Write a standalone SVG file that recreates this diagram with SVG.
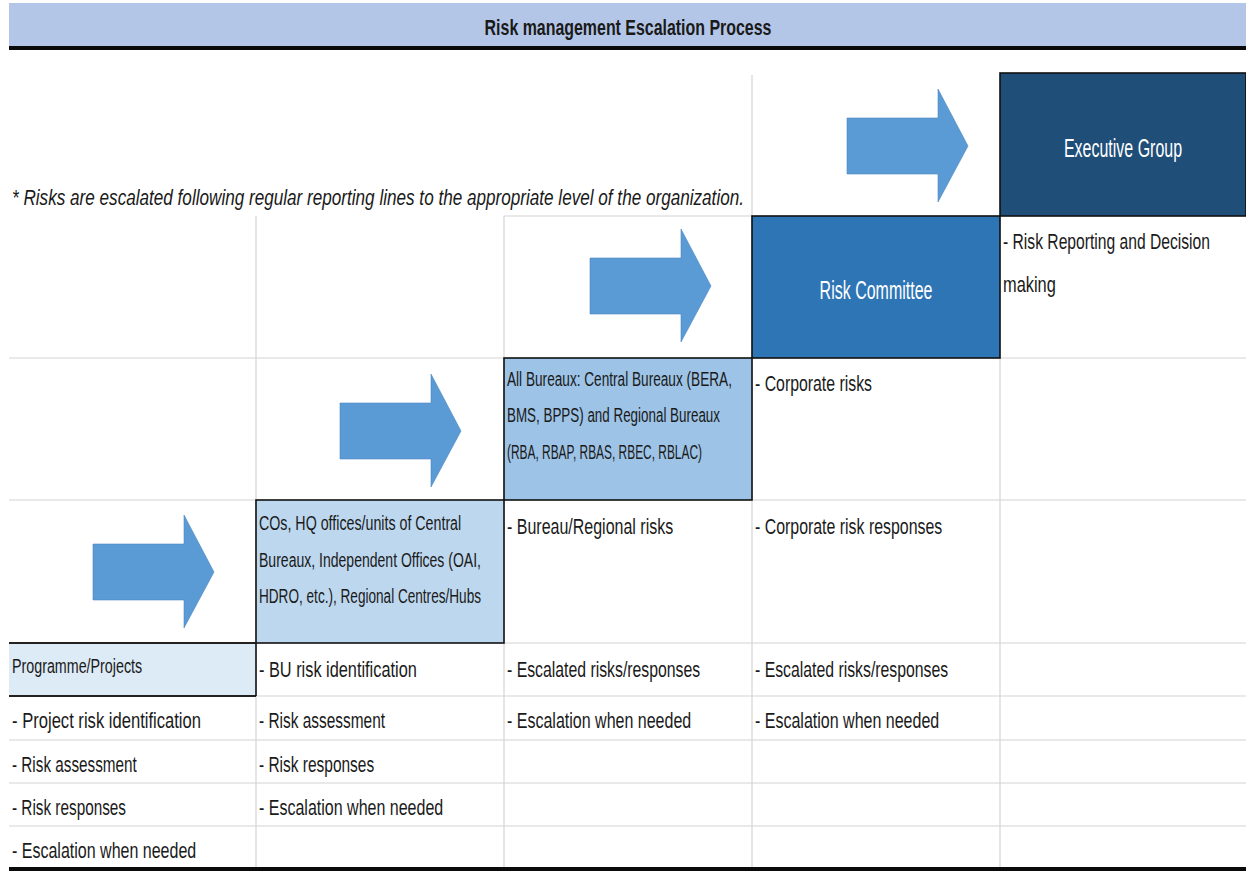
<svg xmlns="http://www.w3.org/2000/svg" width="1246" height="874" viewBox="0 0 1246 874">
<style>
.t{font-family:"Liberation Sans",Arial,sans-serif;font-size:22px;fill:#1a1a1a}
.s{font-size:20px}
.w{fill:#ffffff;font-size:25px}
.m{text-anchor:middle}
.g{stroke:#d4d4d4;stroke-width:1.2;fill:none}
.box{stroke:#111;stroke-width:1.6}
.arr{fill:#5b9bd5;stroke:#4a86bf;stroke-width:0.6}
</style>
<defs>
<path id="arrow" d="M0,29 H91 V0 L121,57 L91,113 V85 H0 Z"/>
</defs>
<rect x="0" y="0" width="1246" height="874" fill="#ffffff"/>
<g id="title">
<rect x="9" y="3" width="1237" height="43" fill="#b4c6e7"/>
<rect x="9" y="46" width="1237" height="4" fill="#0a0a0a"/>
<text class="t m" transform="translate(628,35) scale(0.6,1)" font-weight="bold" font-size="22" textLength="478" lengthAdjust="spacingAndGlyphs">Risk management Escalation Process</text>
</g>
<g id="grid">
<line class="g" x1="504" y1="216" x2="752" y2="216"/>
<line class="g" x1="9" y1="358" x2="504" y2="358"/>
<line class="g" x1="1000" y1="358" x2="1246" y2="358"/>
<line class="g" x1="9" y1="500" x2="256" y2="500"/>
<line class="g" x1="752" y1="500" x2="1246" y2="500"/>
<line class="g" x1="504" y1="643" x2="1246" y2="643"/>
<line class="g" x1="256" y1="696" x2="1246" y2="696"/>
<line class="g" x1="9" y1="740" x2="1246" y2="740"/>
<line class="g" x1="9" y1="783" x2="1246" y2="783"/>
<line class="g" x1="9" y1="826" x2="1246" y2="826"/>
<line class="g" x1="256" y1="216" x2="256" y2="869"/>
<line class="g" x1="504" y1="216" x2="504" y2="869"/>
<line class="g" x1="752" y1="75" x2="752" y2="869"/>
<line class="g" x1="1000" y1="216" x2="1000" y2="869"/>
<rect x="9" y="867" width="1237" height="4" fill="#0a0a0a"/>
</g>
<text class="t" transform="translate(12,205) scale(0.6,1)" font-style="italic" font-size="23" textLength="1220" lengthAdjust="spacingAndGlyphs">* Risks are escalated following regular reporting lines to the appropriate level of the organization.</text>
<g id="connectors">
<use href="#arrow" class="arr" transform="translate(93,515)"/>
<use href="#arrow" class="arr" transform="translate(340,374)"/>
<use href="#arrow" class="arr" transform="translate(590,229)"/>
<use href="#arrow" class="arr" transform="translate(847,89)"/>
</g>
<g id="executive-group">
<rect class="box" x="1000" y="73" width="246" height="143" fill="#1f4e79"/>
<text class="t w m" transform="translate(1123,157) scale(0.6,1)" textLength="197" lengthAdjust="spacingAndGlyphs">Executive Group</text>
<text class="t" transform="translate(1003,249) scale(0.6,1)" textLength="345" lengthAdjust="spacingAndGlyphs">- Risk Reporting and Decision</text>
<text class="t" transform="translate(1003,292) scale(0.6,1)" textLength="88" lengthAdjust="spacingAndGlyphs">making</text>
</g>
<g id="risk-committee">
<rect class="box" x="752" y="216" width="248" height="142" fill="#2e75b6"/>
<text class="t w m" transform="translate(876,299) scale(0.6,1)" textLength="188" lengthAdjust="spacingAndGlyphs">Risk Committee</text>
<text class="t" transform="translate(755,391) scale(0.6,1)" textLength="195" lengthAdjust="spacingAndGlyphs">- Corporate risks</text>
<text class="t" transform="translate(755,534) scale(0.6,1)" textLength="312" lengthAdjust="spacingAndGlyphs">- Corporate risk responses</text>
<text class="t" transform="translate(755,677) scale(0.6,1)" textLength="322" lengthAdjust="spacingAndGlyphs">- Escalated risks/responses</text>
<text class="t" transform="translate(755,728) scale(0.6,1)" textLength="307" lengthAdjust="spacingAndGlyphs">- Escalation when needed</text>
</g>
<g id="all-bureaux">
<rect class="box" x="504" y="358" width="248" height="142" fill="#9dc3e6"/>
<text class="t s" transform="translate(507,386) scale(0.6,1)" textLength="375" lengthAdjust="spacingAndGlyphs">All Bureaux: Central Bureaux (BERA,</text>
<text class="t s" transform="translate(507,422) scale(0.6,1)" textLength="355" lengthAdjust="spacingAndGlyphs">BMS, BPPS) and Regional Bureaux</text>
<text class="t s" transform="translate(507,459) scale(0.6,1)" textLength="325" lengthAdjust="spacingAndGlyphs">(RBA, RBAP, RBAS, RBEC, RBLAC)</text>
<text class="t" transform="translate(507,534) scale(0.6,1)" textLength="277" lengthAdjust="spacingAndGlyphs">- Bureau/Regional risks</text>
<text class="t" transform="translate(507,677) scale(0.6,1)" textLength="322" lengthAdjust="spacingAndGlyphs">- Escalated risks/responses</text>
<text class="t" transform="translate(507,728) scale(0.6,1)" textLength="307" lengthAdjust="spacingAndGlyphs">- Escalation when needed</text>
</g>
<g id="country-offices">
<rect class="box" x="256" y="500" width="248" height="143" fill="#bdd7ee"/>
<text class="t s" transform="translate(259,530) scale(0.6,1)" textLength="337" lengthAdjust="spacingAndGlyphs">COs, HQ offices/units of Central</text>
<text class="t s" transform="translate(259,567) scale(0.6,1)" textLength="370" lengthAdjust="spacingAndGlyphs">Bureaux, Independent Offices (OAI,</text>
<text class="t s" transform="translate(259,603) scale(0.6,1)" textLength="370" lengthAdjust="spacingAndGlyphs">HDRO, etc.), Regional Centres/Hubs</text>
<text class="t" transform="translate(259,677) scale(0.6,1)" textLength="263" lengthAdjust="spacingAndGlyphs">- BU risk identification</text>
<text class="t" transform="translate(259,728) scale(0.6,1)" textLength="210" lengthAdjust="spacingAndGlyphs">- Risk assessment</text>
<text class="t" transform="translate(259,772) scale(0.6,1)" textLength="192" lengthAdjust="spacingAndGlyphs">- Risk responses</text>
<text class="t" transform="translate(259,815) scale(0.6,1)" textLength="307" lengthAdjust="spacingAndGlyphs">- Escalation when needed</text>
</g>
<g id="programme-projects">
<rect x="9" y="643" width="247" height="53" fill="#ddebf7"/>
<line x1="9" y1="643" x2="256" y2="643" stroke="#222" stroke-width="2.2"/>
<line x1="9" y1="696" x2="256" y2="696" stroke="#222" stroke-width="2.2"/>
<line x1="256" y1="643" x2="256" y2="696" stroke="#111" stroke-width="1.6"/>
<text class="t s" transform="translate(12,673) scale(0.6,1)" textLength="217" lengthAdjust="spacingAndGlyphs">Programme/Projects</text>
<text class="t" transform="translate(12,728) scale(0.6,1)" textLength="315" lengthAdjust="spacingAndGlyphs">- Project risk identification</text>
<text class="t" transform="translate(12,772) scale(0.6,1)" textLength="208" lengthAdjust="spacingAndGlyphs">- Risk assessment</text>
<text class="t" transform="translate(12,815) scale(0.6,1)" textLength="190" lengthAdjust="spacingAndGlyphs">- Risk responses</text>
<text class="t" transform="translate(12,858) scale(0.6,1)" textLength="307" lengthAdjust="spacingAndGlyphs">- Escalation when needed</text>
</g>
</svg>
